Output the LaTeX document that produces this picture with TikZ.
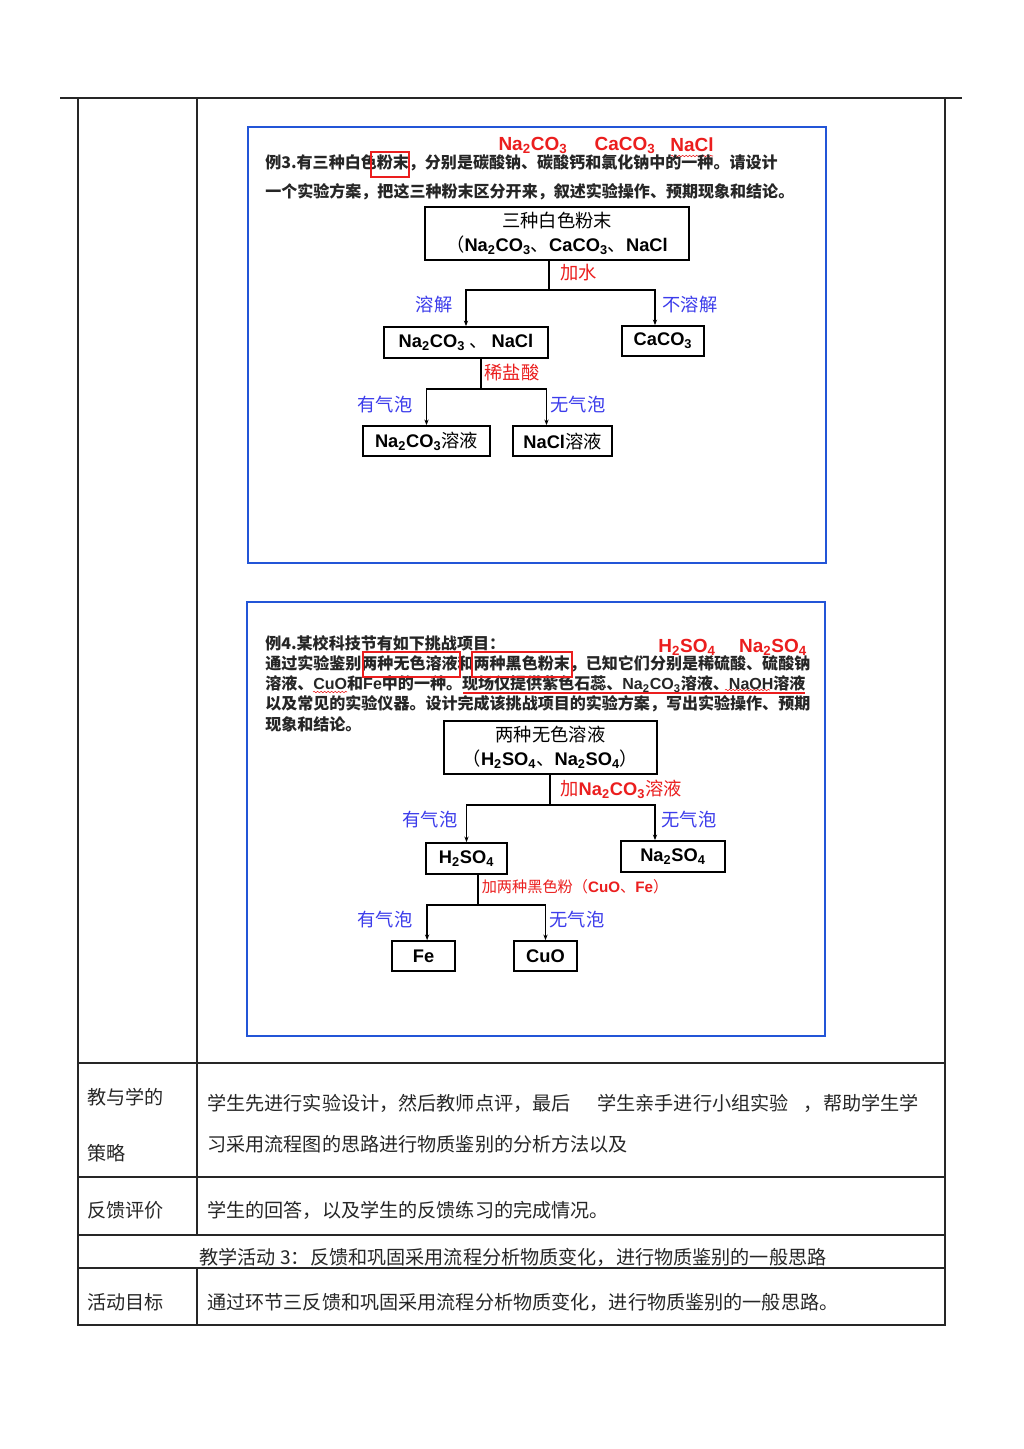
\documentclass[tikz,border=0pt]{standalone}
\usepackage{fontspec}
\setmainfont{Noto Sans CJK SC}
\newfontfamily\arial{Liberation Sans}
\usetikzlibrary{arrows.meta, decorations.pathmorphing}

\definecolor{frameblue}{RGB}{35,85,215}
\definecolor{labblue}{RGB}{60,60,235}
\definecolor{labred}{RGB}{235,30,30}

\newcommand{\subs}[1]{\textsubscript{#1}}
\newcommand{\lat}[1]{{\arial\bfseries #1}}
\newcommand{\NaCO}{\lat{Na\subs{2}CO\subs{3}}}
\newcommand{\CaCO}{\lat{CaCO\subs{3}}}
\newcommand{\HSO}{\lat{H\subs{2}SO\subs{4}}}
\newcommand{\NaSO}{\lat{Na\subs{2}SO\subs{4}}}

\tikzset{
  tline/.style={line width=1.1pt, black!85},
  frame/.style={draw=frameblue, line width=2pt},
  flowbox/.style={draw, line width=1.2pt, align=center, font=\fontsize{13}{17}\selectfont},
  conn/.style={line width=1pt},
  arr/.style={conn, -{Stealth[length=4pt,width=3pt]}},
  exline/.style={anchor=west, font=\fontsize{11.4}{14}\selectfont\bfseries, text=black!85},
  cell/.style={anchor=west, font=\fontsize{13.6}{16}\selectfont, text=black!85},
  lblue/.style={text=labblue, font=\fontsize{13}{15}\selectfont},
  lred/.style={text=labred, font=\fontsize{13}{15}\selectfont},
  chemred/.style={text=labred, font=\fontsize{13.5}{15}\selectfont},
  redmark/.style={draw=labred, line width=0.9pt},
  wavy/.style={labred, line width=0.4pt, decorate, decoration={snake, amplitude=0.5pt, segment length=2.5pt}}
}

\begin{document}
\begin{tikzpicture}[x=0.025cm, y=-0.025cm, every node/.style={inner sep=0}]
\useasboundingbox (0,0) rectangle (1024,1449);
\fill[white] (0,0) rectangle (1024,1449);

% table lines
\draw[tline] (60,98) -- (962,98);
\draw[tline] (78,98) -- (78,1325) -- (945,1325) -- (945,98);
\draw[tline] (197,98) -- (197,1235);
\draw[tline] (197,1268) -- (197,1325);
\foreach \yy in {1063,1177,1235,1268}
  \draw[tline] (78,\yy) -- (945,\yy);

% the two slides
\draw[frame] (248,127) rectangle (826,563);
\draw[frame] (247,602) rectangle (825,1036);

% example 3
\node[chemred] (hna) at (533,145) {\NaCO};
\node[chemred] (hca) at (625,145) {\CaCO};
\node[chemred] (hcl) at (692,145) {\lat{NaCl}};
\draw[wavy] (671,156) -- (713,156);
\node[exline] (q3a) at (265,163) {例3.有三种白色粉末，分别是碳酸钠、碳酸钙和氯化钠中的一种。请设计};
\node[exline] (q3b) at (265,192) {一个实验方案，把这三种粉末区分开来，叙述实验操作、预期现象和结论。};
\draw[redmark] (371,152) rectangle (409,177);

\node[flowbox, minimum width=6.6cm, minimum height=1.325cm] (pow) at (557,233.5)
  {三种白色粉末\\（\NaCO、\CaCO、\lat{NaCl}};
\coordinate (w1) at (549,290);
\draw[conn] (pow.south -| w1) -- (w1);
\node[flowbox, minimum width=4.1cm, minimum height=0.775cm] (sol) at (466,342.5) {\NaCO\ 、 \lat{NaCl}};
\node[flowbox, minimum width=2.05cm, minimum height=0.75cm] (ins) at (663,341) {\CaCO};
\draw[arr] (w1) -| (sol.north);
\draw[arr] (w1) -| ([xshift=-0.2cm]ins.north);
\node[lred, anchor=west] (water) at (560,273) {加水};
\node[lblue] (dis) at (434,305) {溶解};
\node[lblue] (undis) at (690,305) {不溶解};

\coordinate (w2) at (481,389);
\draw[conn] (sol.south -| w2) -- (w2);
\node[flowbox, minimum width=3.175cm, minimum height=0.75cm] (nacosol) at (426.5,441) {\NaCO 溶液};
\node[flowbox, minimum width=2.475cm, minimum height=0.75cm] (naclsol) at (562.5,441) {\lat{NaCl}溶液};
\draw[arr] (w2) -| (nacosol.north);
\draw[arr] (w2) -| ([xshift=-0.4cm]naclsol.north);
\node[lred] (acid1) at (512,373) {稀盐酸};
\node[lblue] (gas1) at (385,405) {有气泡};
\node[lblue] (nogas1) at (578,405) {无气泡};

% example 4
\node[chemred] (hhso) at (687,647) {\HSO};
\node[chemred] (hnaso) at (773,647) {\NaSO};
\node[exline] (q4a) at (265,643) {例4.某校科技节有如下挑战项目：};
\node[exline] (q4b) at (265,664) {通过实验鉴别两种无色溶液和两种黑色粉末，已知它们分别是稀硫酸、硫酸钠};
\node[exline] (q4c) at (265,684) {溶液、\lat{CuO}和\lat{Fe}中的一种。现场仅提供紫色石蕊、\NaCO 溶液、\lat{NaOH}溶液};
\node[exline] (q4d) at (265,704) {以及常见的实验仪器。设计完成该挑战项目的实验方案，写出实验操作、预期};
\node[exline] (q4e) at (265,724) {现象和结论。};
\draw[redmark] (363,652) rectangle (460,677);
\draw[redmark] (472,652) rectangle (572,677);
\draw[labred, line width=0.8pt] (463,693) -- (805,693);
\draw[wavy] (313,692) -- (347,692);
\draw[wavy] (725,690) -- (770,690);

\node[flowbox, minimum width=5.325cm, minimum height=1.325cm] (liq) at (550.5,747.5)
  {两种无色溶液\\（\HSO、\NaSO）};
\coordinate (w3) at (550,805);
\draw[conn] (liq.south -| w3) -- (w3);
\node[flowbox, minimum width=2.025cm, minimum height=0.775cm] (acid) at (466.5,858.5) {\HSO};
\node[flowbox, minimum width=2.6cm, minimum height=0.775cm] (salt) at (673,856.5) {\NaSO};
\draw[arr] (w3) -| (acid.north);
\draw[arr] (w3) -| ([xshift=-0.45cm]salt.north);
\node[lred] (addna) at (621,789) {加\NaCO 溶液};
\node[lblue] (gas2) at (430,820) {有气泡};
\node[lblue] (nogas2) at (689,820) {无气泡};

\coordinate (w4) at (478,905);
\draw[conn] (acid.south -| w4) -- (w4);
\node[flowbox, minimum width=1.575cm, minimum height=0.75cm] (fe) at (423.5,956) {\lat{Fe}};
\node[flowbox, minimum width=1.575cm, minimum height=0.75cm] (cuo) at (545.5,956) {\lat{CuO}};
\draw[arr] (w4) -| ([xshift=0.09cm]fe.north);
\draw[arr] (w4) -| (cuo.north);
\node[lred, font=\fontsize{10.8}{12}\selectfont] (addpow) at (575,887) {加两种黑色粉（\lat{CuO}、\lat{Fe}）};
\node[lblue] (gas3) at (385,920) {有气泡};
\node[lblue] (nogas3) at (577,920) {无气泡};

% table text
\node[cell] (c1a) at (87,1097) {教与学的};
\node[cell] (c1b) at (87,1153) {策略};
\node[cell] (c2a) at (207,1103) {学生先进行实验设计，然后教师点评，最后\hspace{1.4em}学生亲手进行小组实验\hspace{0.8em}，帮助学生学};
\node[cell] (c2b) at (207,1144) {习采用流程图的思路进行物质鉴别的分析方法以及};
\node[cell] (c3a) at (87,1210) {反馈评价};
\node[cell] (c3b) at (207,1210) {学生的回答，以及学生的反馈练习的完成情况。};
\node[cell, anchor=center] (c4) at (513,1257) {教学活动 3：反馈和巩固采用流程分析物质变化，进行物质鉴别的一般思路};
\node[cell] (c5a) at (87,1302) {活动目标};
\node[cell] (c5b) at (207,1302) {通过环节三反馈和巩固采用流程分析物质变化，进行物质鉴别的一般思路。};
\end{tikzpicture}
\end{document}
